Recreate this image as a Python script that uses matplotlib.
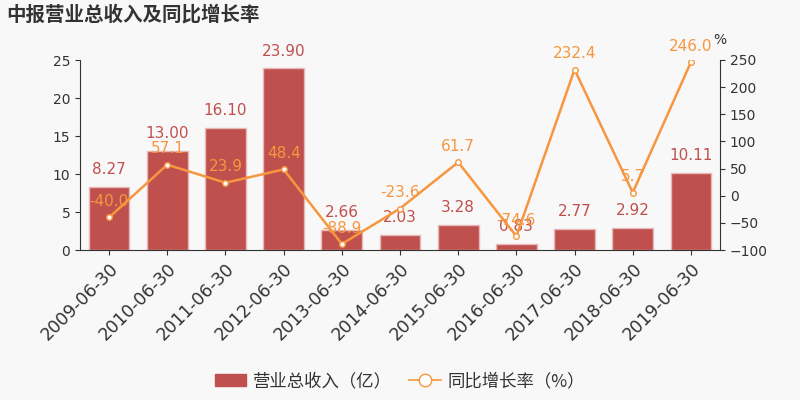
import matplotlib
matplotlib.use('Agg')
import matplotlib.pyplot as plt
from matplotlib.patches import Patch
from matplotlib.lines import Line2D

plt.rcParams['font.family'] = ['DejaVu Sans', 'Noto Sans CJK SC']

dates = ['2009-06-30', '2010-06-30', '2011-06-30', '2012-06-30', '2013-06-30', '2014-06-30',
         '2015-06-30', '2016-06-30', '2017-06-30', '2018-06-30', '2019-06-30']
revenue = [8.27, 13.00, 16.10, 23.90, 2.66, 2.03, 3.28, 0.83, 2.77, 2.92, 10.11]
growth = [-40.0, 57.1, 23.9, 48.4, -88.9, -23.6, 61.7, -74.6, 232.4, 5.7, 246.0]

bar_color = '#c0504d'
line_color = '#f7963e'
text_color = '#333333'
bg = '#f8f8f8'

fig = plt.figure(figsize=(8, 4), dpi=100, facecolor=bg)
ax = fig.add_axes([0.1, 0.375, 0.8, 0.475], facecolor=bg)
ax2 = ax.twinx()

x = list(range(len(dates)))
ax.bar(x, revenue, width=0.7, color=bar_color, edgecolor='#e6b8b7', linewidth=1, zorder=2)
ax.set_ylim(0, 25)
ax.set_yticks([0, 5, 10, 15, 20, 25])
ax.set_xlim(-0.5, len(dates) - 0.5)
ax.set_xticks(x)
ax.set_xticklabels(dates, rotation=45, ha='right', rotation_mode='anchor', fontsize=12.5, color=text_color)

for i, v in enumerate(revenue):
    ax.annotate('%.2f' % v, (i, v), xytext=(0, 7), textcoords='offset points',
                ha='center', va='bottom', fontsize=11, color=bar_color)

ax2.plot(x, growth, color=line_color, linewidth=1.8, marker='o', markersize=4,
         markerfacecolor='white', markeredgecolor=line_color, markeredgewidth=1, zorder=3)
ax2.set_ylim(-100, 250)
ax2.set_yticks([-100, -50, 0, 50, 100, 150, 200, 250])
for i, v in enumerate(growth):
    ax2.annotate('%.1f' % v, (i, v), xytext=(0, 6), textcoords='offset points',
                 ha='center', va='bottom', fontsize=11, color=line_color)

for a in (ax, ax2):
    a.spines['top'].set_visible(False)
    a.tick_params(colors=text_color, labelsize=10)
    for s in ['left', 'right', 'bottom']:
        a.spines[s].set_color(text_color)
ax.spines['right'].set_visible(False)
ax2.spines['left'].set_visible(False)
ax2.spines['bottom'].set_visible(False)
ax.tick_params(axis='x', labelsize=12.5)

fig.text(0.892, 0.89, '%', fontsize=10, color=text_color)
fig.text(0.008, 0.963, '中报营业总收入及同比增长率', fontsize=14, fontweight='bold',
         color='#333333', va='center', family=['Noto Sans CJK SC', 'DejaVu Sans'])

handles = [Patch(facecolor=bar_color, edgecolor=bar_color),
           Line2D([0], [0], color=line_color, marker='o', markersize=9,
                  markerfacecolor='white', markeredgecolor=line_color, linewidth=1.2)]
fig.legend(handles, ['营业总收入（亿）', '同比增长率（%）'], loc='lower center',
           bbox_to_anchor=(0.5, -0.015), ncol=2, frameon=False,
           prop={'family': ['Noto Sans CJK SC', 'DejaVu Sans'], 'size': 12.5},
           labelcolor=text_color, handlelength=1.8, handletextpad=0.4, columnspacing=1.0)

fig.savefig('out.png', dpi=100, facecolor=bg)
